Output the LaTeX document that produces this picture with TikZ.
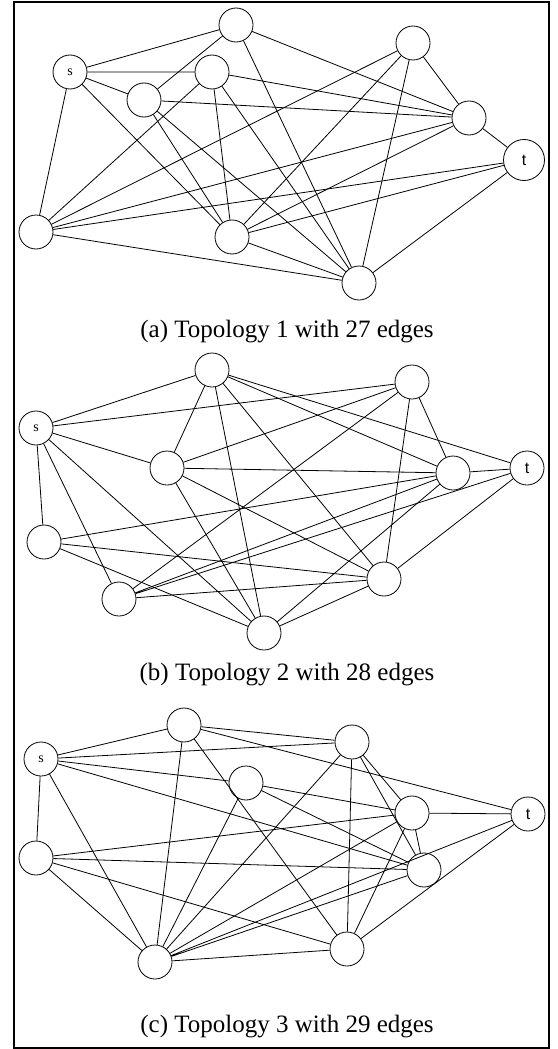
\documentclass[tikz,border=0pt]{standalone}
\usepackage{fontspec}
\setmainfont{Liberation Serif}
\newfontfamily\labelsans{Liberation Sans}
\usetikzlibrary{positioning}

\begin{document}
\begin{tikzpicture}[
    x=1pt, y=-1pt,
    vertex/.style={circle, draw, line width=0.8pt, minimum size=34pt, inner sep=0pt},
    srcnode/.style={vertex, font=\fontsize{14}{14}\selectfont},
    snknode/.style={vertex, font=\labelsans\fontsize{16}{16}\selectfont},
    link/.style={line width=0.8pt},
    subcap/.style={font=\fontsize{25}{30}\selectfont},
]
\useasboundingbox (0,0) rectangle (557,1049);
\draw[line width=2pt] (14,2) rectangle (549,1048);

% topology 1
\node[srcnode] (sa) at (70,72) {s};
\node[vertex] (a1) at (236,25) {};
\node[vertex] (a2) at (212,72) {};
\node[vertex] (a3) at (144,100) {};
\node[vertex] (a4) at (36,232) {};
\node[vertex] (a5) at (232,237) {};
\node[vertex] (a6) at (413,43) {};
\node[vertex] (a7) at (469,118) {};
\node[vertex] (a8) at (359,283) {};
\node[snknode, minimum size=41pt] (ta) at (524,160) {t};

\draw[link] (sa) -- (a1) (sa) -- (a2) (sa) -- (a3) (sa) -- (a4) (sa) -- (a5);
\draw[link] (a1) -- (a3) (a1) -- (a7) (a1) -- (a8);
\draw[link] (a2) -- (a7) (a2) -- (a8) (a2) -- (a5) (a2) -- (a4);
\draw[link] (a3) -- (a7) (a3) -- (a5) (a3) -- (a8);
\draw[link] (a4) -- (a6) (a4) -- (a7) (a4) -- (ta) (a4) -- (a8);
\draw[link] (a5) -- (a6) (a5) -- (a7) (a5) -- (ta) (a5) -- (a8);
\draw[link] (a6) -- (a8) (a6) -- (a7) (a7) -- (ta) (ta) -- (a8);

\node[subcap] (capa) at (287,332) {(a) Topology 1 with 27 edges};

% topology 2
\node[srcnode] (sb) at (36,428) {s};
\node[vertex] (b1) at (212,370) {};
\node[vertex] (b2) at (167,468) {};
\node[vertex] (b3) at (44,542) {};
\node[vertex] (b4) at (119,599) {};
\node[vertex] (b5) at (264,633) {};
\node[vertex] (b6) at (412,382) {};
\node[vertex] (b7) at (453,473) {};
\node[vertex] (b8) at (384,579) {};
\node[snknode] (tb) at (527,468) {t};

\draw[link] (sb) -- (b1) (sb) -- (b6) (sb) -- (b2) (sb) -- (b3) (sb) -- (b4) (sb) -- (b5);
\draw[link] (b1) -- (b2) (b1) -- (b5) (b1) -- (tb) (b1) -- (b7) (b1) -- (b8);
\draw[link] (b2) -- (b6) (b2) -- (b7) (b2) -- (b8) (b2) -- (b5);
\draw[link] (b3) -- (b7) (b3) -- (b8) (b3) -- (b5);
\draw[link] (b4) -- (b6) (b4) -- (b7) (b4) -- (tb) (b4) -- (b8);
\draw[link] (b6) -- (b7) (b6) -- (b8) (b7) -- (tb) (b7) -- (b5);
\draw[link] (b8) -- (tb) (b8) -- (b5);

\node[subcap] (capb) at (287,675) {(b) Topology 2 with 28 edges};

% topology 3
\node[srcnode] (sc) at (41,759) {s};
\node[vertex] (c1) at (184,725) {};
\node[vertex] (c2) at (352,742) {};
\node[vertex] (c3) at (246,783) {};
\node[vertex] (c4) at (36,858) {};
\node[vertex] (c5) at (155,962) {};
\node[vertex] (c6) at (347,949) {};
\node[vertex] (c7) at (412,813) {};
\node[vertex] (c8) at (424,870) {};
\node[snknode] (tc) at (528,814) {t};

\draw[link] (sc) -- (c1) (sc) -- (c2) (sc) -- (c3) (sc) -- (c4) (sc) -- (c5) (sc) -- (c8);
\draw[link] (c1) -- (c2) (c1) -- (tc) (c1) -- (c5) (c1) -- (c6);
\draw[link] (c2) -- (c5) (c2) -- (c6) (c2) -- (c8) (c2) -- (c7);
\draw[link] (c3) -- (c7) (c3) -- (c8) (c3) -- (c5);
\draw[link] (c4) -- (c7) (c4) -- (c8) (c4) -- (c6) (c4) -- (c5);
\draw[link] (c5) -- (c6) (c5) -- (c7) (c5) -- (c8) (c5) -- (tc);
\draw[link] (c7) -- (tc) (c7) -- (c8) (c7) -- (c6) (c6) -- (tc);

\node[subcap] (capc) at (287,1027) {(c) Topology 3 with 29 edges};
\end{tikzpicture}
\end{document}
